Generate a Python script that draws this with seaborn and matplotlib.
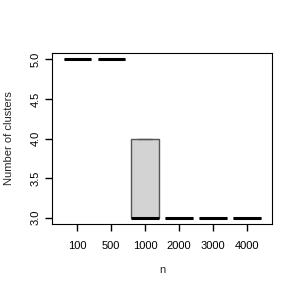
import pandas as pd
import matplotlib
matplotlib.use("Agg")
import matplotlib.pyplot as plt
import seaborn as sns

# Data
n_values = ["100", "500", "1000", "2000", "3000", "4000"]
clusters_100 = [5, 5, 5, 5, 5]
clusters_500 = [5, 5, 5, 5, 5]
clusters_1000 = [3, 3, 3, 4, 4]
clusters_2000 = [3, 3, 3, 3, 3]
clusters_3000 = [3, 3, 3, 3, 3]
clusters_4000 = [3, 3, 3, 3, 3]

groups = [clusters_100, clusters_500, clusters_1000,
          clusters_2000, clusters_3000, clusters_4000]
df = pd.DataFrame({
    "n": [n for n, g in zip(n_values, groups) for _ in g],
    "clusters": [v for g in groups for v in g],
})

sns.set_style("ticks")
plt.rcParams["font.family"] = ["Liberation Sans", "DejaVu Sans"]

fig = plt.figure(figsize=(2.99, 2.91), dpi=100)
ax = fig.add_axes([0.174, 0.230, 0.736, 0.588])

sns.boxplot(x="n", y="clusters", data=df, order=n_values, ax=ax,
            color="lightgray", saturation=1, width=0.8,
            linecolor="#555555", linewidth=1,
            medianprops={"color": "black", "linewidth": 2.2},
            showfliers=False)

ax.set_xlim(0.5 - 0.24 - 1, 6.74 - 1)
ax.set_ylim(2.92, 5.08)
ax.set_yticks([3.0, 3.5, 4.0, 4.5, 5.0])
ax.set_yticklabels(["3.0", "3.5", "4.0", "4.5", "5.0"], rotation=90, va="center")
ax.set_xlabel("n", fontsize=8, labelpad=10)
ax.set_ylabel("Number of clusters", fontsize=8, labelpad=12)
ax.tick_params(axis="x", bottom=True, length=5, width=1, color="black",
               direction="out", labelsize=8, labelcolor="black", pad=7)
ax.tick_params(axis="y", left=True, length=5, width=1, color="black",
               direction="out", labelsize=8, labelcolor="black", pad=3)
for s in ax.spines.values():
    s.set_visible(True)
    s.set_color("black")
    s.set_linewidth(0.8)

fig.savefig("out.png", dpi=100)
